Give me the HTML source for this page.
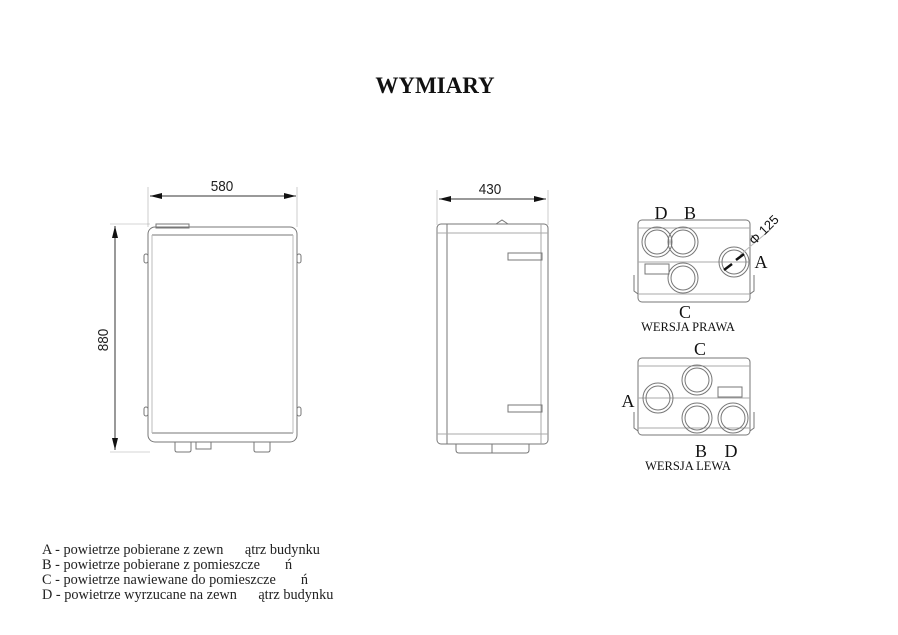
<!DOCTYPE html>
<html><head><meta charset="utf-8"><style>
html,body{margin:0;padding:0;background:#fff;width:898px;height:635px;overflow:hidden}
</style></head><body>
<svg width="898" height="635" viewBox="0 0 898 635" xmlns="http://www.w3.org/2000/svg">
<g font-family="Liberation Serif, serif">
<text x="435" y="93" text-anchor="middle" font-size="23" font-weight="bold" fill="#111">WYMIARY</text>
</g>
<!-- front view -->
<g stroke="#777" fill="none" stroke-width="1">
<line x1="148" y1="187" x2="148" y2="227" stroke="#aaa" stroke-width="0.6"/>
<line x1="297" y1="187" x2="297" y2="227" stroke="#aaa" stroke-width="0.6"/>
<line x1="150" y1="196" x2="296" y2="196" stroke="#333"/>
<line x1="110" y1="224" x2="150" y2="224" stroke="#aaa" stroke-width="0.6"/>
<line x1="110" y1="452" x2="150" y2="452" stroke="#aaa" stroke-width="0.6"/>
<line x1="115" y1="226" x2="115" y2="450" stroke="#333"/>
<rect x="148" y="227" width="149" height="215" rx="7"/>
<line x1="152" y1="235" x2="293" y2="235"/>
<line x1="152" y1="433" x2="293" y2="433"/>
<line x1="152" y1="235" x2="152" y2="433" stroke="#bbb"/>
<line x1="293" y1="235" x2="293" y2="433" stroke="#bbb"/>
<rect x="156" y="224" width="33" height="4"/>
<rect x="144" y="254" width="4" height="9" rx="2"/>
<rect x="297" y="254" width="4" height="9" rx="2"/>
<rect x="144" y="407" width="4" height="9" rx="2"/>
<rect x="297" y="407" width="4" height="9" rx="2"/>
<path d="M175 442 v8 q0 2 2 2 h12 q2 0 2-2 v-8"/>
<path d="M196 442 v7 h15 v-7"/>
<path d="M254 442 v8 q0 2 2 2 h12 q2 0 2-2 v-8"/>
</g>
<g fill="#111">
<polygon points="150,196 162,193 162,199"/>
<polygon points="296,196 284,193 284,199"/>
<polygon points="115,226 112,238 118,238"/>
<polygon points="115,450 112,438 118,438"/>
</g>
<!-- side view -->
<g stroke="#777" fill="none" stroke-width="1">
<line x1="437" y1="190" x2="437" y2="225" stroke="#aaa" stroke-width="0.6"/>
<line x1="548" y1="190" x2="548" y2="225" stroke="#aaa" stroke-width="0.6"/>
<line x1="439" y1="199" x2="546" y2="199" stroke="#333"/>
<rect x="437" y="224" width="111" height="220" rx="4"/>
<line x1="447" y1="224" x2="447" y2="444"/>
<line x1="541" y1="224" x2="541" y2="444" stroke="#aaa"/>
<line x1="437" y1="233" x2="548" y2="233" stroke="#aaa"/>
<line x1="437" y1="434" x2="548" y2="434" stroke="#aaa"/>
<path d="M456 444 v6 q0 3 3 3 h67 q3 0 3-3 v-6"/>
<line x1="492" y1="444" x2="492" y2="453"/>
<rect x="508" y="253" width="34" height="7"/>
<rect x="508" y="405" width="34" height="7"/>
<path d="M496 224 l6-4 l6 4"/>
</g>
<g fill="#111">
<polygon points="439,199 451,196 451,202"/>
<polygon points="546,199 534,196 534,202"/>
</g>
<g font-family="Liberation Sans, sans-serif" font-size="15" fill="#222" text-anchor="middle">
<text x="222" y="191" transform="translate(222 0) scale(0.9 1) translate(-222 0)">580</text>
<text x="490" y="194" transform="translate(490 0) scale(0.9 1) translate(-490 0)">430</text>
<text x="0" y="0" transform="translate(108 340) rotate(-90) scale(0.9 1)">880</text>
</g>
<!-- WERSJA PRAWA -->
<g stroke="#777" fill="none" stroke-width="1">
<rect x="638" y="220" width="112" height="82" rx="4"/>
<line x1="638" y1="228" x2="750" y2="228" stroke="#aaa"/>
<line x1="638" y1="262" x2="750" y2="262" stroke="#aaa"/>
<line x1="638" y1="294" x2="750" y2="294" stroke="#aaa"/>
<circle cx="657" cy="242" r="15"/><circle cx="657" cy="242" r="12"/>
<circle cx="683" cy="242" r="15"/><circle cx="683" cy="242" r="12"/>
<circle cx="734" cy="262" r="15"/><circle cx="734" cy="262" r="12"/>
<circle cx="683" cy="278" r="15"/><circle cx="683" cy="278" r="12"/>
<rect x="645" y="264" width="24" height="10"/>
<path d="M634 275 v16 l4 3 M754 275 v16 l-4 3"/>
<line x1="740" y1="255" x2="770" y2="230" stroke="#bbb"/>
</g>
<path d="M724 270 l8-6 M744 254 l-8 6" stroke="#111" stroke-width="2.5"/>
<!-- WERSJA LEWA -->
<g stroke="#777" fill="none" stroke-width="1">
<rect x="638" y="358" width="112" height="77" rx="4"/>
<line x1="638" y1="366" x2="750" y2="366" stroke="#aaa"/>
<line x1="638" y1="398" x2="750" y2="398" stroke="#aaa"/>
<line x1="638" y1="428" x2="750" y2="428" stroke="#aaa"/>
<circle cx="697" cy="380" r="15"/><circle cx="697" cy="380" r="12"/>
<circle cx="658" cy="398" r="15"/><circle cx="658" cy="398" r="12"/>
<circle cx="697" cy="418" r="15"/><circle cx="697" cy="418" r="12"/>
<circle cx="733" cy="418" r="15"/><circle cx="733" cy="418" r="12"/>
<rect x="718" y="387" width="24" height="10"/>
<path d="M634 412 v16 l4 3 M754 412 v16 l-4 3"/>
</g>
<g font-family="Liberation Serif, serif" fill="#111" text-anchor="middle">
<text x="661" y="219" font-size="18">D</text>
<text x="690" y="219" font-size="18">B</text>
<text x="761" y="268" font-size="18">A</text>
<text x="685" y="318" font-size="18">C</text>
<text x="688" y="331" font-size="12.5">WERSJA PRAWA</text>
<text x="700" y="355" font-size="18">C</text>
<text x="628" y="407" font-size="18">A</text>
<text x="701" y="457" font-size="18">B</text>
<text x="731" y="457" font-size="18">D</text>
<text x="688" y="470" font-size="12.5">WERSJA LEWA</text>
<text x="0" y="0" font-size="13" font-family="Liberation Sans, sans-serif" transform="translate(767 233) rotate(-45)">Φ 125</text>
</g>
<g font-family="Liberation Serif, serif" font-size="14.3" fill="#222">
<text x="42" y="554">A - powietrze pobierane z zewn&#160;&#160;&#160;&#160;&#160;&#160;ątrz budynku</text>
<text x="42" y="569">B - powietrze pobierane z pomieszcze&#160;&#160;&#160;&#160;&#160;&#160;&#160;ń</text>
<text x="42" y="584">C - powietrze nawiewane do pomieszcze&#160;&#160;&#160;&#160;&#160;&#160;&#160;ń</text>
<text x="42" y="599">D - powietrze wyrzucane na zewn&#160;&#160;&#160;&#160;&#160;&#160;ątrz budynku</text>
</g>
</svg>
</body></html>
